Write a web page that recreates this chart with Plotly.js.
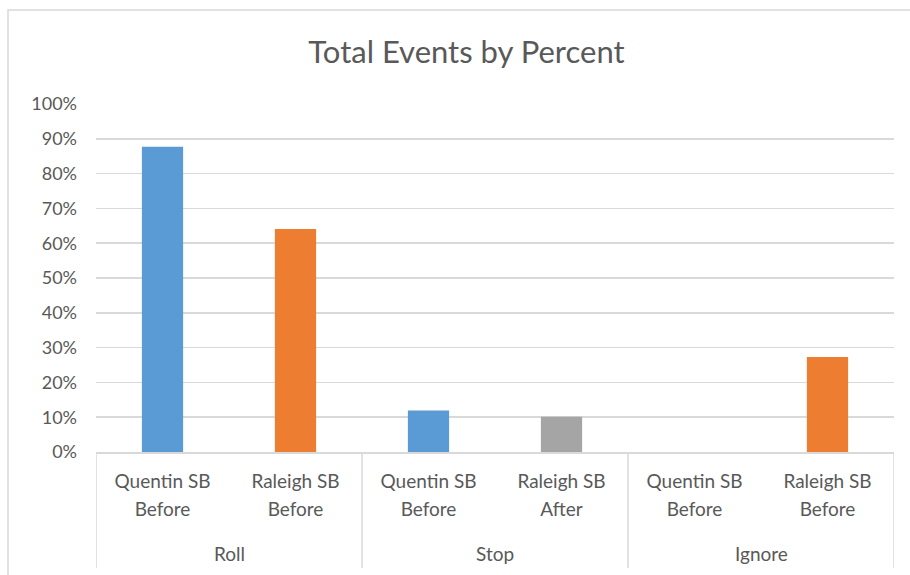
<!DOCTYPE html>
<html>
<head>
<meta charset="utf-8">
<script src="https://cdn.plot.ly/plotly-3.0.1.min.js"></script>
<style>
html,body{margin:0;padding:0;background:#fff;}
#chart{width:910px;height:575px;}
</style>
</head>
<body>
<div id="chart"></div>
<script>
// Data
const groups = ["Roll", "Roll", "Stop", "Stop", "Ignore", "Ignore"];
const subLine1 = ["Quentin SB", "Raleigh SB", "Quentin SB", "Raleigh SB", "Quentin SB", "Raleigh SB"];
const subLine2 = ["Before", "Before", "Before", "After", "Before", "Before"];
const values = [0.877, 0.641, 0.119, 0.101, 0, 0.273];
const barColors = ["#5B9BD5", "#ED7D31", "#5B9BD5", "#A5A5A5", "#5B9BD5", "#ED7D31"];
const yTicks = [0, 0.1, 0.2, 0.3, 0.4, 0.5, 0.6, 0.7, 0.8, 0.9, 1.0];

const xPos = groups.map((g, i) => i);
const groupNames = [...new Set(groups)];
const groupCenters = groupNames.map(g => {
  const idx = xPos.filter(i => groups[i] === g);
  return (Math.min(...idx) + Math.max(...idx)) / 2;
});
const dividerPos = [-0.5];
groupNames.forEach(g => {
  const idx = xPos.filter(i => groups[i] === g);
  dividerPos.push(Math.max(...idx) + 0.5);
});

const font = "Lato, 'Open Sans', sans-serif";
const txt = "#595959";
const grid = "#d9d9d9";

const trace = {
  type: "bar",
  x: xPos,
  y: values,
  marker: {color: barColors, line: {width: 0}},
  width: 0.31,
  hoverinfo: "y"
};
// invisible helper so the second axis (second label line) is drawn
const trace2 = {
  type: "scatter", mode: "markers", x: xPos, y: values.map(() => null),
  xaxis: "x2", yaxis: "y", hoverinfo: "skip", showlegend: false
};

const xRange = [-0.5, xPos.length - 0.5];
const bottomPx = 123, plotH = 575 - 104 - bottomPx;

const shapes = dividerPos.map(p => ({
  type: "line", xref: "x", yref: "paper",
  x0: p, x1: p, y0: 0, y1: -116 / plotH,
  line: {color: grid, width: 1.5}
}));
shapes.push({
  type: "rect", xref: "paper", yref: "paper",
  x0: (8 - 96) / 798, x1: (915 - 96) / 798,
  y0: (452 - 580) / plotH, y1: (452 - 10) / plotH,
  line: {color: grid, width: 1.5}, fillcolor: "rgba(0,0,0,0)", layer: "below"
});

const annotations = groupNames.map((g, k) => ({
  text: g, x: groupCenters[k], xref: "x", y: -101 / plotH, yref: "paper",
  xanchor: "center", yanchor: "middle", showarrow: false,
  font: {family: font, size: 19, color: txt}
}));

const layout = {
  width: 910, height: 575,
  margin: {l: 96, r: 16, t: 104, b: bottomPx},
  paper_bgcolor: "#fff", plot_bgcolor: "#fff",
  showlegend: false,
  title: {text: "Total Events by Percent", x: 0.5126, xanchor: "center", y: 0.909, yanchor: "middle",
          font: {family: font, size: 31, color: txt}},
  font: {family: font, color: txt},
  xaxis: {
    range: xRange, tickvals: xPos, ticktext: subLine1,
    showline: true, linecolor: grid, linewidth: 1.5,
    showgrid: false, zeroline: false, ticks: "",
    ticklabelstandoff: 12,
    tickfont: {family: font, size: 19, color: txt}
  },
  xaxis2: {
    overlaying: "x", anchor: "y", side: "bottom",
    range: xRange, tickvals: xPos, ticktext: subLine2,
    showline: false, showgrid: false, zeroline: false, ticks: "",
    ticklabelstandoff: 44,
    tickfont: {family: font, size: 19, color: txt}
  },
  yaxis: {
    range: [0, 1.0], tickvals: yTicks, tickformat: ".0%",
    showline: false, gridcolor: grid, gridwidth: 1.5, zeroline: false,
    ticks: "", ticklabelstandoff: 18,
    tickfont: {family: font, size: 18, color: txt}
  },
  shapes: shapes,
  annotations: annotations
};

Plotly.newPlot("chart", [trace, trace2], layout, {displayModeBar: false, staticPlot: true});
</script>
</body>
</html>
